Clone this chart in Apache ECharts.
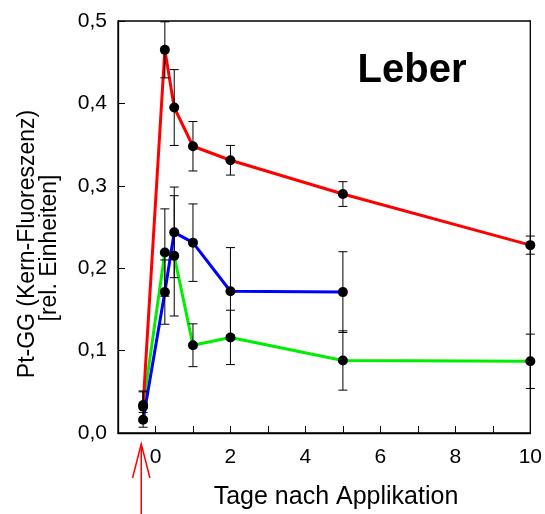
<!DOCTYPE html>
<html><head><meta charset="utf-8">
<script src="https://cdn.jsdelivr.net/npm/echarts@6/dist/echarts.min.js"></script>
<style>html,body{margin:0;padding:0;background:#fff}#c{width:545px;height:514px}</style>
</head><body><div id="c"></div>
<script>
// Data
var days = [-0.33, 0.25, 0.5, 1, 2, 5, 10];
var redMean = [0.034, 0.465, 0.395, 0.348, 0.331, 0.290, 0.228];
var redErr = [0.017, 0.034, 0.046, 0.030, 0.018, 0.015, 0.011];
var blueDays = [-0.33, 0.25, 0.5, 1, 2, 5];
var blueMean = [0.016, 0.171, 0.2435, 0.231, 0.172, 0.171];
var blueErr = [0.009, 0.039, 0.055, 0.047, 0.053, 0.049];
var greenMean = [0.032, 0.219, 0.215, 0.1065, 0.116, 0.088, 0.087];
var greenErr = [0.018, 0.053, 0.073, 0.026, 0.033, 0.036, 0.033];
var xTickLabels = ['0', '2', '4', '6', '8', '10'];
var arrowDay = -0.38;

var FONT = 'Liberation Sans, Arial, sans-serif';
function pts(xs, ys) { return xs.map(function (x, i) { return [x, ys[i]]; }); }
function errs(xs, ys, es) { return xs.map(function (x, i) { return [x, ys[i] - es[i], ys[i] + es[i]]; }); }

var chart = echarts.init(document.getElementById('c'), null, { renderer: 'canvas' });

function errSeries(data) {
  return {
    type: 'custom', z: 3, silent: true,
    renderItem: function (params, api) {
      var x = api.value(0);
      var lo = api.coord([x, api.value(1)]);
      var hi = api.coord([x, api.value(2)]);
      var hw = 4.5;
      var st = { stroke: '#000', lineWidth: 1 };
      return { type: 'group', children: [
        { type: 'line', shape: { x1: lo[0], y1: lo[1], x2: hi[0], y2: hi[1] }, style: st },
        { type: 'line', shape: { x1: lo[0] - hw, y1: lo[1], x2: lo[0] + hw, y2: lo[1] }, style: st },
        { type: 'line', shape: { x1: hi[0] - hw, y1: hi[1], x2: hi[0] + hw, y2: hi[1] }, style: st }
      ] };
    },
    encode: { x: 0, y: [1, 2] },
    data: data
  };
}
function lineSeries(data, color) {
  return { type: 'line', z: 2, data: data, showSymbol: false, symbol: 'none',
    lineStyle: { color: color, width: 3 }, animation: false };
}
function dotSeries(data) {
  return { type: 'scatter', z: 5, data: data, symbol: 'circle', symbolSize: 10,
    itemStyle: { color: '#000', opacity: 1 }, animation: false };
}

var evenLabels = {};
xTickLabels.forEach(function (l) { evenLabels[Number(l)] = l; });

chart.setOption({
  animation: false,
  grid: { left: 118, right: 13, top: 21, bottom: 81, show: true, borderColor: '#000', borderWidth: 1.3, backgroundColor: 'transparent' },
  xAxis: {
    type: 'value', min: -1, max: 10, interval: 1,
    axisLine: { onZero: false, lineStyle: { color: '#000', width: 1.3 } },
    axisTick: { inside: true, length: 7, lineStyle: { color: '#000', width: 1 } },
    splitLine: { show: false },
    axisLabel: { color: '#000', fontFamily: FONT, fontSize: 21, margin: 14,
      formatter: function (v) { return evenLabels[v] !== undefined ? evenLabels[v] : ''; } }
  },
  yAxis: {
    type: 'value', min: 0, max: 0.5, interval: 0.1,
    axisLine: { onZero: false, lineStyle: { color: '#000', width: 1.3 } },
    axisTick: { inside: true, length: 7, lineStyle: { color: '#000', width: 1 } },
    splitLine: { show: false },
    axisLabel: { color: '#000', fontFamily: FONT, fontSize: 21, margin: 11,
      formatter: function (v) { return v.toFixed(1).replace('.', ','); } }
  },
  series: [
    lineSeries(pts(days, greenMean), '#00ee00'),
    lineSeries(pts(blueDays, blueMean), '#0000ff'),
    lineSeries(pts(days, redMean), '#ff0000'),
    errSeries(errs(days, redMean, redErr)),
    errSeries(errs(blueDays, blueMean, blueErr)),
    errSeries(errs(days, greenMean, greenErr)),
    dotSeries(pts(days, redMean)),
    dotSeries(pts(blueDays, blueMean)),
    dotSeries(pts(days, greenMean))
  ]
});

var ax = chart.convertToPixel({ xAxisIndex: 0 }, arrowDay);
chart.setOption({
  graphic: [
    { type: 'text', x: 412, y: 71, style: { text: 'Leber', font: 'bold 40px ' + FONT, fill: '#000', textAlign: 'center', textVerticalAlign: 'middle' } },
    { type: 'text', x: 336, y: 497, style: { text: 'Tage nach Applikation', font: '25px ' + FONT, fill: '#000', textAlign: 'center', textVerticalAlign: 'middle' } },
    { type: 'text', x: 28, y: 244, rotation: Math.PI / 2, style: { text: 'Pt-GG (Kern-Fluoreszenz)', font: '23px ' + FONT, fill: '#000', textAlign: 'center', textVerticalAlign: 'middle' } },
    { type: 'text', x: 50, y: 248, rotation: Math.PI / 2, style: { text: '[rel. Einheiten]', font: '23px ' + FONT, fill: '#000', textAlign: 'center', textVerticalAlign: 'middle' } },
    { type: 'line', shape: { x1: ax, y1: 444, x2: ax, y2: 514 }, style: { stroke: '#ff0000', lineWidth: 1.5 } },
    { type: 'polyline', shape: { points: [[ax - 8.7, 478], [ax, 444], [ax + 8.7, 478]] }, style: { stroke: '#ff0000', lineWidth: 1.5, fill: null } }
  ]
});
</script></body></html>
